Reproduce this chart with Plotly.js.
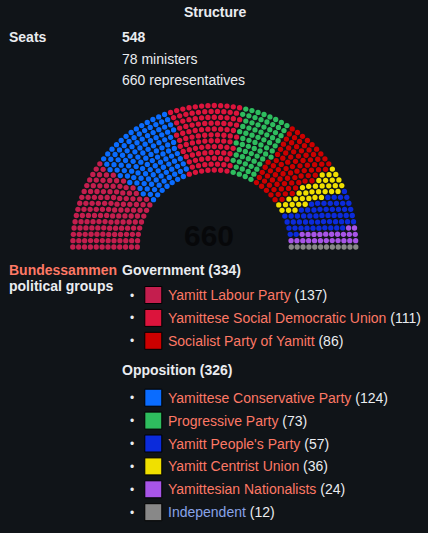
<!DOCTYPE html>
<html>
<head>
<meta charset="utf-8">
<script src="https://cdn.plot.ly/plotly-3.0.1.min.js"></script>
<style>
  html, body { margin: 0; padding: 0; background: #101418; }
  #chart { width: 428px; height: 533px; }
</style>
</head>
<body>
<div id="chart"></div>
<script>
// ---- Data ----
const partyNames = ["Yamitt Labour Party", "Yamittese Conservative Party", "Yamittese Social Democratic Union",
  "Progressive Party", "Socialist Party of Yamitt", "Yamitt Centrist Union", "Yamitt People's Party",
  "Yamittesian Nationalists", "Independent"];
const partySeats = [137, 124, 111, 73, 86, 36, 57, 24, 12];
const partyColors = ["#C41E4E", "#0A6CFF", "#DC143C", "#2EBD5E", "#CC0000", "#F0E000", "#0B2BDB", "#A855E8", "#888888"];
const partyLinkColors = ["#fd7865", "#fd7865", "#fd7865", "#fd7865", "#fd7865", "#fd7865", "#fd7865", "#fd7865", "#88a3e8"];

const govTitle = "Government (334)";
const govMembers = [0, 2, 4];
const oppTitle = "Opposition (326)";
const oppMembers = [1, 3, 6, 5, 7, 8];

const chamberName = "Bundessammen";
const structureTitle = "Structure";
const seatsTotalLabel = "548";
const seatsLines = ["78 ministers", "660 representatives"];
const centerLabel = "660";

// ---- Hemicycle geometry ----
const cx = 214.3, cy = 247, rIn = 77, rOut = 141.5, nRows = 12;
const totalSeats = partySeats.reduce((a, b) => a + b, 0);
const radii = [];
for (let i = 0; i < nRows; i++) radii.push(rIn + i * (rOut - rIn) / (nRows - 1));
const sumR = radii.reduce((a, b) => a + b, 0);
const raw = radii.map(r => totalSeats * r / sumR);
const counts = raw.map(v => Math.floor(v));
let rem = totalSeats - counts.reduce((a, b) => a + b, 0);
const order = raw.map((v, i) => [v - Math.floor(v), i]).sort((a, b) => b[0] - a[0]);
for (let k = 0; k < rem; k++) counts[order[k][1]]++;

const seatsPos = [];
radii.forEach((r, i) => {
  const n = counts[i];
  for (let j = 0; j < n; j++) {
    const th = Math.PI * (1 - j / (n - 1));
    seatsPos.push({ th: th, r: r });
  }
});
seatsPos.sort((a, b) => (b.th - a.th) || (a.r - b.r));

const sx = [], sy = [], sc = [];
let idx = 0;
partySeats.forEach((n, p) => {
  for (let k = 0; k < n; k++) {
    const s = seatsPos[idx++];
    sx.push(cx + s.r * Math.cos(s.th));
    sy.push(cy - s.r * Math.sin(s.th));
    sc.push(partyColors[p]);
  }
});

const traces = [{
  type: "scatter", mode: "markers", x: sx, y: sy, hoverinfo: "skip",
  marker: { size: 5.3, color: sc, line: { width: 0 } }
}];

// ---- Text & legend ----
const FONT = "Liberation Sans, Arial, sans-serif";
const TXT = "#eaecf0";
const ann = [];
function addText(x, y, text, opts) {
  ann.push(Object.assign({
    x: x, y: y, xref: "x", yref: "y", text: text, showarrow: false,
    xanchor: "left", yanchor: "middle", borderpad: 0,
    font: { family: FONT, size: 14, color: TXT }
  }, opts || {}));
}
addText(214.5, 11.5, "<b>" + structureTitle + "</b>", { xanchor: "center" });
addText(8, 37, "<b>Seats</b>");
addText(120.5, 37, "<b>" + seatsTotalLabel + "</b>");
seatsLines.forEach((t, i) => addText(120.5, 58.5 + i * 21, t));
addText(209, 235, "<b>" + centerLabel + "</b>", { xanchor: "center", font: { family: FONT, size: 30, color: "#07080a" } });

addText(8, 269.5, "<b><span style='color:#fd7865'>" + chamberName + "</span></b>");
addText(8, 285.5, "<b>political groups</b>");

const lx = [], ly = [], lc = [];
function addGroup(title, members, yTitle, y0) {
  addText(120.5, yTitle, "<b>" + title + "</b>");
  members.forEach((p, i) => {
    const y = y0 + i * 22.9;
    lx.push(153.3); ly.push(y); lc.push(partyColors[p]);
    addText(128.5, y + 0.5, "•", { font: { family: FONT, size: 12, color: TXT } });
    addText(166.5, y, "<span style='color:" + partyLinkColors[p] + "'>" + partyNames[p] + "</span> (" + partySeats[p] + ")");
  });
}
addGroup(govTitle, govMembers, 269.5, 295);
addGroup(oppTitle, oppMembers, 369.5, 397.7);

traces.push({
  type: "scatter", mode: "markers", x: lx, y: ly, hoverinfo: "skip",
  marker: { symbol: "square", size: 17, color: lc, line: { width: 1, color: "#000000" } }
});

const layout = {
  width: 428, height: 533,
  margin: { l: 0, r: 0, t: 0, b: 0 },
  paper_bgcolor: "#101418", plot_bgcolor: "#101418",
  showlegend: false,
  xaxis: { range: [0, 428], visible: false, fixedrange: true },
  yaxis: { range: [533, 0], visible: false, fixedrange: true },
  annotations: ann
};
Plotly.newPlot("chart", traces, layout, { displayModeBar: false, staticPlot: true });
</script>
</body>
</html>
